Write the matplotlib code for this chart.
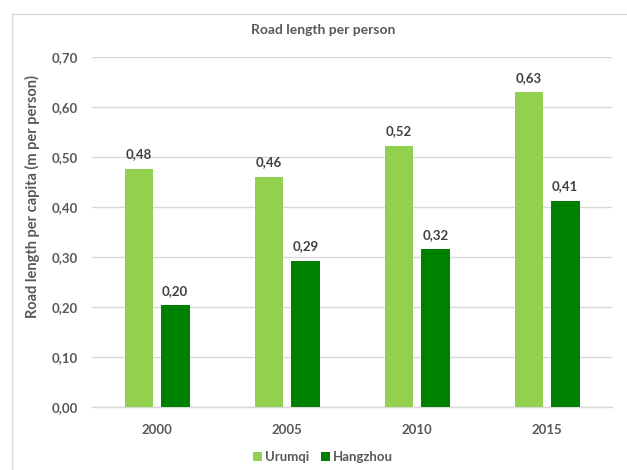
import matplotlib
matplotlib.use("Agg")
import matplotlib.pyplot as plt
from matplotlib.patches import Rectangle
import numpy as np

years = ["2000", "2005", "2010", "2015"]
urumqi = [0.477, 0.461, 0.523, 0.630]
hangzhou = [0.204, 0.293, 0.316, 0.413]
series_names = ["Urumqi", "Hangzhou"]
y_ticks = [0.0, 0.1, 0.2, 0.3, 0.4, 0.5, 0.6, 0.7]

light_green = "#92D050"
dark_green = "#008000"
text_gray = "#595959"
grid_gray = "#D9D9D9"

plt.rcParams["font.family"] = ["Lato", "DejaVu Sans"]

fig = plt.figure(figsize=(6.27, 4.70), dpi=100)

# chart frame
fig.add_artist(Rectangle((12 / 627, -0.05), 1.0, 1 - 14 / 470 + 0.05,
                         transform=fig.transFigure, fill=False,
                         edgecolor="#D9D9D9", linewidth=1.0))

ax = fig.add_axes([92 / 627, 63 / 470, 520 / 627, 350 / 470])

x = np.arange(len(years))
w = 0.22
gap = 0.06
off = (w + gap) / 2
b1 = ax.bar(x - off, urumqi, w, color=light_green, label=series_names[0], zorder=3)
b2 = ax.bar(x + off, hangzhou, w, color=dark_green, label=series_names[1], zorder=3)

for bars, vals in ((b1, urumqi), (b2, hangzhou)):
    for rect, v in zip(bars, vals):
        ax.annotate(f"{v:.2f}".replace(".", ","),
                    (rect.get_x() + rect.get_width() / 2, v),
                    xytext=(0, 6), textcoords="offset points",
                    ha="center", va="bottom", fontsize=9.5,
                    fontweight="bold", color="#404040")

ax.set_xlim(-0.5, len(years) - 0.5)
ax.set_ylim(0, 0.70)
ax.set_yticks(y_ticks)
ax.set_yticklabels([f"{t:.2f}".replace(".", ",") for t in y_ticks])
ax.set_xticks(x)
ax.set_xticklabels(years)

for s in ("top", "right", "left"):
    ax.spines[s].set_visible(False)
ax.spines["bottom"].set_color(grid_gray)
ax.spines["bottom"].set_linewidth(1.0)
ax.grid(axis="y", color=grid_gray, linewidth=1.0, zorder=0)
ax.tick_params(axis="both", length=0, labelsize=9.5, colors=text_gray)
ax.tick_params(axis="y", pad=10)
ax.tick_params(axis="x", pad=12)
for lab in ax.get_xticklabels() + ax.get_yticklabels():
    lab.set_fontweight("bold")

ax.set_ylabel("Road length per capita (m per person)", fontsize=10.5,
              fontweight="bold", color=text_gray)
ax.yaxis.set_label_coords((40 - 92) / 520, (407 - 196) / 350)

fig.text(323 / 627, 1 - 30 / 470, "Road length per person", ha="center",
         va="center", fontsize=10, fontweight="bold", color=text_gray)

leg = fig.legend(handles=[b1, b2], labels=series_names, loc="center",
                 bbox_to_anchor=(323 / 627, 1 - 457 / 470), ncol=2,
                 frameon=False, fontsize=9.5, handlelength=0.7,
                 handleheight=0.7, handletextpad=0.2, columnspacing=0.9)
for t in leg.get_texts():
    t.set_color(text_gray)
    t.set_fontweight("bold")

fig.savefig("out.png", dpi=100)
